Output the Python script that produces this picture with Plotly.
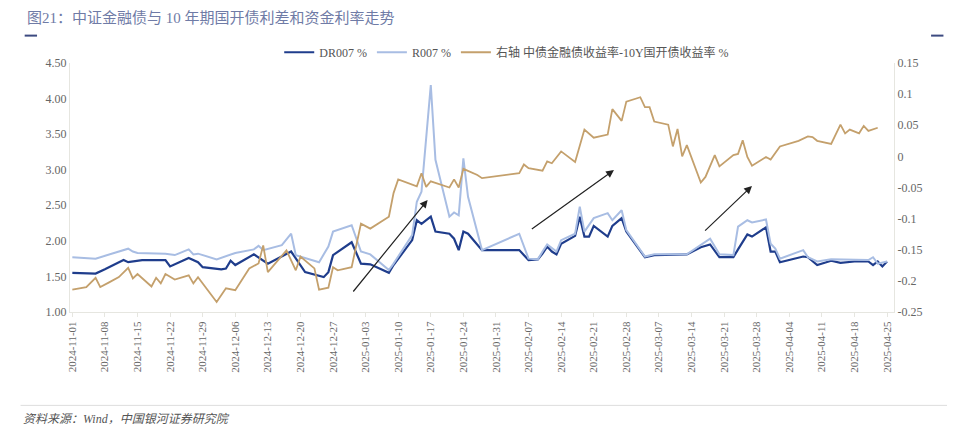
import pandas as pd
import plotly.graph_objects as go

base = pd.Timestamp("2024-11-01")

# days since 2024-11-01 and values
dr_day = [0, 5, 7, 11, 12, 15, 20, 21, 25, 27, 28, 32, 33, 34, 35, 39, 42, 47, 50, 54, 55, 56, 60, 62, 64, 68, 69, 73, 74, 75, 77, 78, 81, 82, 83, 84, 85, 88,
          96, 98, 100, 101, 102, 103, 104, 105, 108, 109, 110, 111, 112, 115, 116, 118, 119, 123, 125, 132, 135, 137, 139, 142, 143, 145, 146, 149, 150, 151,
          152, 157, 158, 160, 163, 165, 168, 171, 172, 173, 174, 175]
dr007 = [1.55, 1.54, 1.60, 1.73, 1.70, 1.73, 1.73, 1.64, 1.76, 1.70, 1.63, 1.60, 1.61, 1.72, 1.66, 1.81, 1.68, 1.85, 1.56, 1.49, 1.56, 1.80, 1.98, 1.68, 1.67,
         1.55, 1.66, 2.01, 2.29, 2.24, 2.34, 2.13, 2.10, 2.03, 1.87, 2.13, 2.10, 1.87,
         1.87, 1.73, 1.74, 1.82, 1.92, 1.85, 1.81, 1.96, 2.07, 2.34, 2.06, 2.06, 2.21, 2.06, 2.21, 2.32, 2.13, 1.77, 1.80, 1.81, 1.91, 1.95, 1.77, 1.77, 1.88,
         2.09, 2.06, 2.19, 1.85, 1.85, 1.70, 1.78, 1.77, 1.66, 1.72, 1.69, 1.71, 1.71, 1.66, 1.71, 1.64, 1.71]

r_day = [0, 5, 12, 13, 14, 20, 22, 25, 26, 27, 31, 35, 39, 40, 41, 45, 47, 48, 53, 55, 56, 60, 62, 64, 68, 69, 73, 74, 75, 77, 78, 81, 82, 83, 84, 85, 88,
         96, 98, 100, 101, 102, 104, 105, 108, 109, 110, 112, 115, 116, 118, 119, 123, 125, 132, 137, 139, 142, 143, 145, 146, 149, 150, 151, 152, 157, 158,
         160, 163, 168, 171, 172, 173, 175]
r007 = [1.77, 1.75, 1.89, 1.85, 1.83, 1.82, 1.80, 1.88, 1.81, 1.82, 1.74, 1.83, 1.88, 1.93, 1.87, 1.94, 2.10, 1.80, 1.70, 1.92, 2.13, 2.22, 1.85, 1.81, 1.59,
        1.68, 2.08, 2.55, 2.69, 4.19, 3.14, 2.34, 2.40, 2.36, 3.16, 2.62, 1.87,
        2.10, 1.75, 1.74, 1.85, 1.95, 1.85, 2.01, 2.10, 2.48, 2.13, 2.32, 2.39, 2.29, 2.43, 2.15, 1.78, 1.81, 1.81, 2.03, 1.81, 1.80, 2.20, 2.29, 2.26, 2.30,
        1.96, 1.89, 1.75, 1.87, 1.77, 1.71, 1.74, 1.73, 1.73, 1.77, 1.68, 1.71]

sp_day = [0, 3, 5, 6, 8, 10, 12, 13, 14, 17, 18, 19, 20, 22, 25, 26, 27, 31, 33, 35, 38, 40, 41, 42, 46, 48, 49, 52, 53, 55, 56, 57, 60, 62, 64, 68, 69,
          70, 74, 75, 76, 77, 81, 82, 83, 84, 87, 88, 96, 97, 98, 101, 102, 103, 105, 108, 110, 112, 115, 116, 118, 119, 122, 123, 124, 125, 128, 129, 130,
          131, 132, 135, 136, 138, 139, 142, 143, 144, 145, 146, 149, 150, 152, 156, 158, 159, 160, 163, 165, 166, 167, 169, 170, 171, 173]
spread = [-0.214, -0.210, -0.195, -0.210, -0.202, -0.194, -0.179, -0.196, -0.189, -0.209, -0.195, -0.204, -0.189, -0.198, -0.191, -0.204, -0.194, -0.234,
          -0.212, -0.215, -0.180, -0.172, -0.143, -0.186, -0.151, -0.183, -0.161, -0.180, -0.214, -0.211, -0.178, -0.183, -0.178, -0.108, -0.116, -0.097,
          -0.059, -0.037, -0.048, -0.027, -0.049, -0.040, -0.050, -0.037, -0.050, -0.020, -0.030, -0.035, -0.027, -0.013, -0.019, -0.023, -0.008, -0.011,
          0.008, -0.009, 0.043, 0.030, 0.035, 0.076, 0.057, 0.088, 0.095, 0.079, 0.079, 0.056, 0.051, 0.016, 0.044, 0.000, 0.018, -0.042, -0.033, 0.002,
          -0.016, 0.002, 0.004, 0.026, -0.001, -0.015, -0.001, -0.005, 0.016, 0.025, 0.032, 0.031, 0.025, 0.020, 0.051, 0.037, 0.043, 0.037, 0.049, 0.041,
          0.046]

names = ["DR007 %", "R007 %", "右轴 中债金融债收益率-10Y国开债收益率 %"]
colors = ["#1f3d8c", "#a8bde3", "#c4a06c"]


def to_dates(days):
    return [base + pd.Timedelta(days=d) for d in days]


fig = go.Figure()
fig.add_trace(go.Scatter(x=to_dates(dr_day), y=dr007, name=names[0], mode="lines", line=dict(color=colors[0], width=2.2)))
fig.add_trace(go.Scatter(x=to_dates(r_day), y=r007, name=names[1], mode="lines", line=dict(color=colors[1], width=2)))
fig.add_trace(go.Scatter(x=to_dates(sp_day), y=spread, name=names[2], mode="lines", line=dict(color=colors[2], width=1.8), yaxis="y2"))

tickdates = pd.date_range("2024-11-01", "2025-04-25", freq="7D")
axcol = "#e6e6e0"
font = "Liberation Serif, Noto Sans CJK SC, serif"

fig.update_layout(
    width=955, height=428,
    margin=dict(l=62, r=69, t=55, b=124),
    plot_bgcolor="white", paper_bgcolor="white",
    font=dict(family=font, size=12, color="#666666"),
    showlegend=True,
    legend=dict(orientation="h", x=0.53, xanchor="center", y=0.985, yanchor="bottom", font=dict(size=12, color="#555555"),
                bgcolor="rgba(0,0,0,0)"),
    xaxis=dict(range=[base - pd.Timedelta(hours=12), pd.Timestamp("2025-04-26 12:00")], tickvals=tickdates, tickformat="%Y-%m-%d",
               tickangle=-90, showgrid=False, showline=True, linecolor=axcol, ticks="outside", tickcolor=axcol, ticklen=4,
               tickfont=dict(size=11, color="#666666")),
    yaxis=dict(range=[1.0, 4.5], dtick=0.5, tickformat=".2f", showgrid=False, showline=True, linecolor=axcol, zeroline=False),
    yaxis2=dict(range=[-0.25, 0.15], tickvals=[-0.25, -0.2, -0.15, -0.1, -0.05, 0, 0.05, 0.1, 0.15],
                ticktext=["-0.25", "-0.2", "-0.15", "-0.1", "-0.05", "0", "0.05", "0.1", "0.15"],
                overlaying="y", side="right", showgrid=False, showline=True, linecolor=axcol, zeroline=False),
)


def px(x, y):
    return (x - 70) / 818, (312 - y) / 249


for (x0, y0), (x1, y1) in [((350, 293), (425, 200)), ((527, 230), (610, 170)), ((699, 232), (747, 186))]:
    ax0, ay0 = px(x0, y0)
    ax1, ay1 = px(x1, y1)
    fig.add_annotation(x=ax1, y=ay1, ax=ax0, ay=ay0, xref="x domain", yref="y domain", axref="x domain", ayref="y domain",
                       text="", showarrow=True, arrowhead=2, arrowsize=1.3, arrowwidth=1.2, arrowcolor="#222222")

fig.add_annotation(text="图21：中证金融债与 10 年期国开债利差和资金利率走势", xref="paper", yref="paper", x=-0.055, y=1.18,
                   xanchor="left", yanchor="middle", showarrow=False, font=dict(size=15, color="#6f7ba6", family=font))
fig.add_annotation(text="<i>资料来源：Wind，中国银河证券研究院</i>", xref="paper", yref="paper", x=-0.06, y=-0.43,
                   xanchor="left", yanchor="middle", showarrow=False, font=dict(size=12, color="#555555", family=font))
fig.add_shape(type="line", xref="paper", yref="paper", x0=-0.055, x1=-0.04, y0=1.11, y1=1.11, line=dict(color="#3c4a80", width=2))
fig.add_shape(type="line", xref="paper", yref="paper", x0=1.045, x1=1.06, y0=1.11, y1=1.11, line=dict(color="#3c4a80", width=2))
fig.add_shape(type="line", xref="paper", yref="paper", x0=-0.06, x1=1.065, y0=-0.375, y1=-0.375, line=dict(color="#dddddd", width=1))

fig.write_html("out.html")
